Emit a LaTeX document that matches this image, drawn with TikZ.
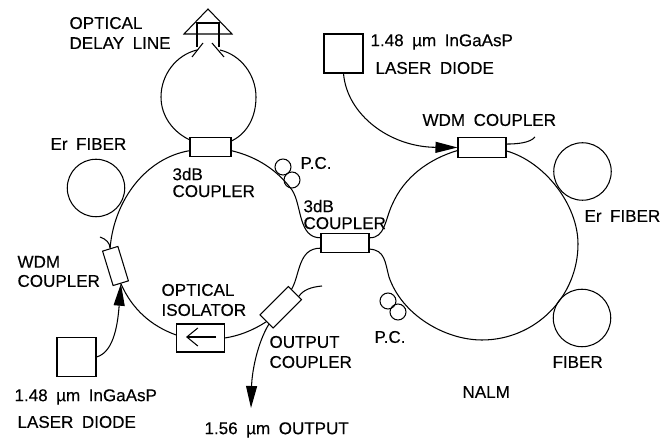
\documentclass[tikz,border=0pt]{standalone}
\usepackage{fontspec}
\setmainfont{Liberation Sans}
\newfontfamily\lblfamily[FakeBold=0.3]{Liberation Sans}
\usetikzlibrary{arrows.meta}
\newcommand{\lblfont}{\lblfamily\fontsize{9.7}{11.4}\selectfont\setlength{\spaceskip}{0.5em}}
\tikzset{
	coupler/.style={draw,rectangle,minimum width=0.82cm,minimum height=0.39cm,inner sep=0pt},
	diode/.style={draw,rectangle,minimum size=0.78cm,inner sep=0pt},
	coil/.style={draw,circle,minimum size=1.15cm,inner sep=0pt},
	paddle/.style={draw,circle,minimum size=0.32cm,inner sep=0pt},
	lbl/.style={anchor=west,inner sep=0pt,align=left,font=\lblfont},
	pump/.style={-{Triangle[length=0.44cm,width=0.22cm]}}
}
\begin{document}
\begin{tikzpicture}[x=0.02cm,y=-0.02cm,line width=0.6pt]
	\useasboundingbox (0,0) rectangle (670,438);
	
	% Coupler
	\node[coupler] (cDelay) at (210.5,147) {};
	\node[coupler,minimum width=0.96cm] (cMid) at (345,243) {};
	\node[coupler,minimum width=0.96cm] (cPump) at (482,147.5) {};
	\node[coupler,rotate=-73,minimum width=0.72cm,minimum height=0.32cm] (cWdm) at (115.5,266) {};
	\node[coupler,rotate=45,minimum width=0.8cm,minimum height=0.37cm] (cOut) at (280.75,307.25) {};
	\node[draw,rectangle,minimum width=0.95cm,minimum height=0.56cm,inner sep=0pt] (iso) at (200.5,338) {};
	
	% Laser diode, coil, P.C.
	\node[diode] (ldA) at (76.5,357) {};
	\node[diode] (ldB) at (343.5,53.5) {};
	\node[coil] (erA) at (96,188) {};
	\node[coil] (erB) at (582.5,171.5) {};
	\node[coil] (erC) at (582,318) {};
	\node[paddle] (pcA) at (283,167) {};
	\node[paddle] (pcB) at (292,180) {};
	\node[paddle] (pcC) at (388,301) {};
	\node[paddle] (pcD) at (398,312) {};
	
	% Optical delay line
	\coordinate (pA) at (208,9);
	\coordinate (pB) at (184,34);
	\coordinate (pC) at (232,34);
	\draw (pA) -- (pB) -- (pC) -- cycle;
	\draw (197,47) -- (197,23) -- (219,23) -- (219,47);
	\draw (192,57) -- (203,43);
	\draw (224,57) -- (212,43);
	\coordinate (tipL) at (197,50);
	\coordinate (tipR) at (220,50);
	\draw (cDelay.161) .. controls (173,132) and (161,116) .. (161,97) .. controls (161,75) and (176,55) .. (tipL);
	\draw (cDelay.16) .. controls (248,133) and (256,116) .. (256,97) .. controls (256,75) and (241,55) .. (tipR);
	
	% Left ring
	\draw (cDelay.190) .. controls (146,158) and (114,200) .. (cWdm.west);
	\draw (cWdm.east) .. controls (132,309) and (151,326) .. (iso.173);
	\draw (iso.east) .. controls (238,336) and (252,331) .. (cOut.west);
	\draw (cDelay.-10) .. controls (258,157) and (278,171) .. (292,190) .. controls (302,205) and (298,238) .. (cMid.168);
	\coordinate (isoR) at (216,337);
	\coordinate (isoL) at (186,337);
	\draw[-{Straight Barb[length=0.22cm,width=0.36cm]}] (isoR) -- (isoL);
	\coordinate (stubW) at (100,237);
	\draw (cWdm.west) .. controls (110,243) and (106,239) .. (stubW);
	\coordinate (stubO) at (322,286);
	\draw (cOut.-14) .. controls (303,290) and (311,287) .. (stubO);
	\draw (cOut.14) .. controls (300,275) and (298,248) .. (cMid.192);
	
	% Right ring
	\draw (cMid.12) .. controls (385,238) and (385,220) .. (392,205) .. controls (404,177) and (429,159) .. (cPump.187);
	\draw (cPump.-8) .. controls (545,162) and (578,205) .. (578,244) .. controls (578,297) and (535,340) .. (482,340) .. controls (445,340) and (402,315) .. (389,277) .. controls (385,262) and (385,250) .. (cMid.-14);
	\coordinate (stubP) at (535,137);
	\draw (cPump.8) .. controls (517,144) and (530,143) .. (stubP);
	
	% Pump and output
	\draw[pump] (ldA.east) .. controls (115,352) and (118,320) .. (cWdm.east);
	\draw[pump] (ldB.south) .. controls (347,115) and (390,147) .. (cPump.west);
	\coordinate (outEnd) at (251,408);
	\draw[pump] (cOut.-170) .. controls (258,342) and (252,370) .. (outEnd);
	
	% Label
	\node[lbl] (tDelay) at (69,33) {OPTICAL\\DELAY LINE};
	\node[lbl] (tErA) at (50,144) {Er FIBER};
	\node[lbl] (tCpA) at (172,182.5) {3dB\\[-1.8pt]COUPLER};
	\node[lbl] (tPcA) at (300,163) {P.C.};
	\node[lbl] (tCpB) at (303,214.5) {3dB\\[-1.8pt]COUPLER};
	\node[lbl] (tWdmA) at (17,271.5) {WDM\\[-0.5pt]COUPLER};
	\node[lbl] (tIso) at (161,300) {OPTICAL\\ISOLATOR};
	\node[lbl] (tOut) at (269,352) {OUTPUT\\COUPLER};
	\node[lbl] (tLdA) at (14,397) {1.48 µm InGaAsP};
	\node[lbl] (tLdB) at (17,422) {LASER DIODE};
	\node[lbl] (tOutp) at (204,430) {1.56 µm OUTPUT};
	\node[lbl] (tLdC) at (370,42) {1.48 µm InGaAsP};
	\node[lbl] (tLdD) at (375,68) {LASER DIODE};
	\node[lbl] (tWdmB) at (422,120) {WDM COUPLER};
	\node[lbl] (tErB) at (584,216) {Er FIBER};
	\node[lbl] (tPcB) at (374,337) {P.C.};
	\node[lbl] (tFib) at (552,362) {FIBER};
	\node[lbl] (tNalm) at (462,392) {NALM};
\end{tikzpicture}
\end{document}
